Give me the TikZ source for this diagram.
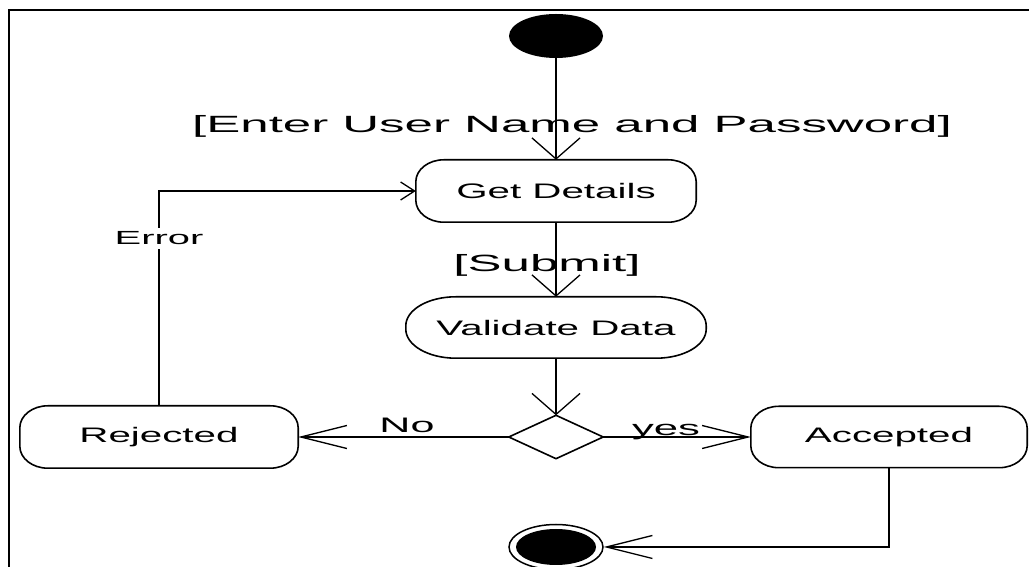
\documentclass[tikz,border=0pt]{standalone}
\usepackage{fontspec}
\setmainfont{Liberation Sans}
\usetikzlibrary{arrows.meta,shapes.geometric}
\newcommand\stxt[1]{\scalebox{1.92}[1]{\fontsize{21}{25}\selectfont #1}}
\newcommand\gtxt[1]{\scalebox{2.17}[1]{\fontsize{23.5}{28}\selectfont #1}}
\newcommand\ltxt[3]{\scalebox{#1}[1]{\fontsize{#2}{24}\selectfont #3}}
\newcommand\stad[3]{%
  \draw[shapeline] ([xshift=#2]#1.north west) -- ([xshift=-#2]#1.north east)
    arc[start angle=90, end angle=0, x radius=#2, y radius=#3]
    -- ([yshift=#3]#1.south east)
    arc[start angle=0, end angle=-90, x radius=#2, y radius=#3]
    -- ([xshift=#2]#1.south west)
    arc[start angle=270, end angle=180, x radius=#2, y radius=#3]
    -- ([yshift=-#3]#1.north west)
    arc[start angle=180, end angle=90, x radius=#2, y radius=#3] -- cycle;}
\tikzset{
  shapeline/.style={line width=1.6pt},
  statebox/.style={inner sep=0pt, minimum height=62pt},
  conn/.style={line width=1.4pt},
  vtip/.style={-{Straight Barb[length=21pt,width=48pt,line width=1.3pt]}},
  htip/.style={-{Straight Barb[length=46pt,width=23pt,line width=1.3pt]}},
  stip/.style={-{Straight Barb[length=14pt,width=18pt,line width=1.3pt]}},
}
\begin{document}
\begin{tikzpicture}[x=1pt,y=1pt]
\useasboundingbox (0,0) rectangle (1029,567);
% frame
\draw[line width=2.4pt] (1029,557) -- (9,557) -- (9,0);
% nodes
\node[ellipse, fill=black, minimum width=94pt, minimum height=44pt, inner sep=0pt] (start) at (556,531) {};
\node[statebox, minimum width=280pt] (gd) at (556,376) {\stxt{Get Details}};
\node[statebox, minimum width=300pt, minimum height=61pt] (vd) at (556,239.5) {\stxt{Validate Data}};
\node[inner sep=0pt, minimum width=94pt, minimum height=43pt] (dec) at (556,130) {};
\node[statebox, minimum width=278pt] (rej) at (159,130) {\stxt{Rejected}};
\node[statebox, minimum width=276pt, minimum height=61pt] (acc) at (889,130) {\stxt{Accepted}};
\node[ellipse, draw, line width=1.5pt, minimum width=94pt, minimum height=45pt, inner sep=0pt] (final) at (556,20) {};
\fill (final.center) ellipse [x radius=40pt, y radius=18pt];
% outlines
\stad{gd}{28pt}{22pt}
\stad{vd}{50pt}{29pt}
\stad{rej}{28pt}{22pt}
\stad{acc}{28pt}{22pt}
\draw[shapeline] (dec.north) -- (dec.east) -- (dec.south) -- (dec.west) -- cycle;
% connectors
\draw[conn, vtip] (start.south) -- (gd.north);
\draw[conn, vtip] (gd.south) -- (vd.north);
\draw[conn, vtip] (vd.south) -- (dec.north);
\draw[conn, htip] (dec.west) -- (rej.east);
\draw[conn, htip] (dec.east) -- (acc.west);
\draw[conn, htip] (acc.south) |- (final.east);
\draw[conn, stip] (rej.north) |- (gd.west);
\path (rej.north) |- node[pos=0.39, fill=white, inner xsep=1pt, inner ysep=4pt] (err) {\ltxt{2.1}{19}{Error}} (gd.west);
% labels
\node[anchor=base, inner sep=0pt] (lenter) at (572,434) {\gtxt{[Enter User Name and Password]}};
\node[anchor=base, inner sep=0pt] (lsubmit) at (547,295) {\gtxt{[Submit]}};
\node[anchor=base, inner sep=0pt] (lno) at (407,134) {\ltxt{2.05}{21}{No}};
\node[anchor=base, inner sep=0pt] (lyes) at (666,131) {\ltxt{2.08}{21}{yes}};
\end{tikzpicture}
\end{document}
